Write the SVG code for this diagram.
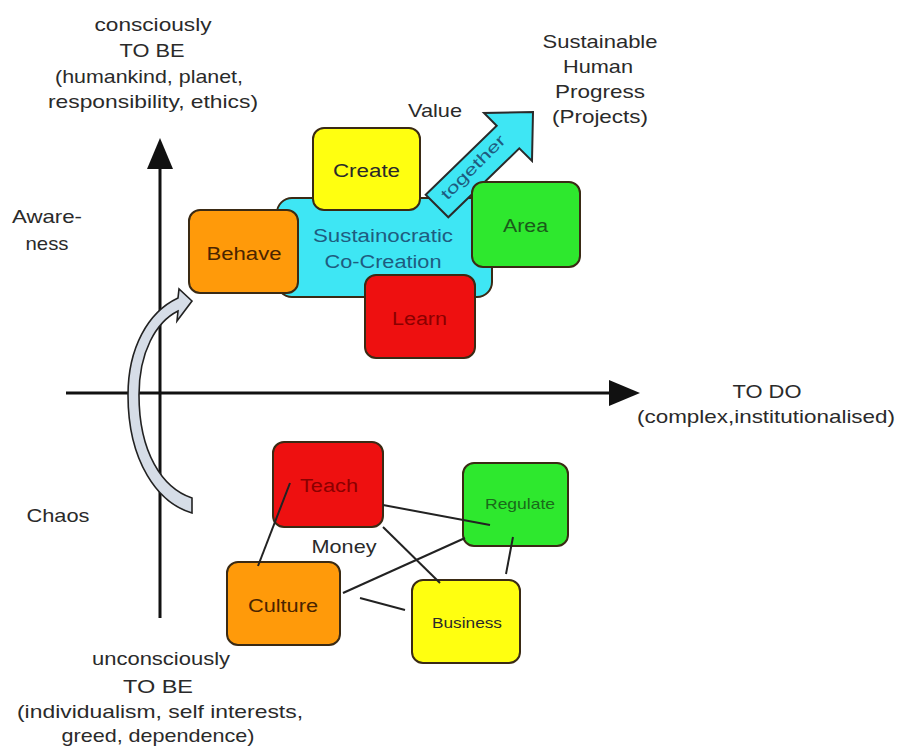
<svg xmlns="http://www.w3.org/2000/svg" width="899" height="749" viewBox="0 0 899 749">
<defs>
<style>
text{font-family:"Liberation Sans",Arial,sans-serif;fill:#2a2a2a;text-anchor:middle;}
.lbl{font-size:19px;}
.nd{font-size:18px;}
.sm{font-size:15px;}
.box{stroke:#3a2a14;stroke-width:2;}
.or{fill:#FF9A0A;}
.ye{fill:#FFFF10;}
.gr{fill:#2EE82E;}
.rd{fill:#EE1010;}
.cy{fill:#3EE6F4;}
.conn line{stroke:#222;stroke-width:2;}
.axis{stroke:#111;stroke-width:3;}
</style>
</defs>
<rect width="899" height="749" fill="#fff"/>

<!-- axes -->
<g id="axes">
<line class="axis" x1="160" y1="618" x2="160" y2="160"/>
<polygon points="160,138 147,169 173,169" fill="#111"/>
<line class="axis" x1="66" y1="393" x2="615" y2="393"/>
<polygon points="640,393 609,380 609,406" fill="#111"/>
</g>

<!-- curved arrow -->
<g id="transition-arrow">
<path d="M192,513 C158,503 128,462 128,395 C128,348 148,312 178,298 L179,289 L192,301 L177,321 L178,311 C156,322 139,352 139,395 C139,452 162,488 192,498 Z" fill="#D6DDE7" stroke="#222" stroke-width="1.6"/>
</g>

<!-- labels -->
<g id="labels">
<text class="lbl" x="153" y="31" textLength="117" lengthAdjust="spacingAndGlyphs">consciously</text>
<text class="lbl" x="152" y="57" textLength="65" lengthAdjust="spacingAndGlyphs">TO BE</text>
<text class="lbl" x="149" y="83" textLength="188" lengthAdjust="spacingAndGlyphs">(humankind, planet,</text>
<text class="lbl" x="153" y="108" textLength="210" lengthAdjust="spacingAndGlyphs">responsibility, ethics)</text>

<text class="lbl" x="600" y="48" textLength="115" lengthAdjust="spacingAndGlyphs">Sustainable</text>
<text class="lbl" x="598" y="73" textLength="70" lengthAdjust="spacingAndGlyphs">Human</text>
<text class="lbl" x="600" y="98" textLength="90" lengthAdjust="spacingAndGlyphs">Progress</text>
<text class="lbl" x="600" y="123" textLength="96" lengthAdjust="spacingAndGlyphs">(Projects)</text>

<text class="lbl" x="435" y="117" textLength="54" lengthAdjust="spacingAndGlyphs">Value</text>

<text class="lbl" x="47" y="223" textLength="70" lengthAdjust="spacingAndGlyphs">Aware-</text>
<text class="lbl" x="47" y="250" textLength="43" lengthAdjust="spacingAndGlyphs">ness</text>

<text class="lbl" x="58" y="522" textLength="63" lengthAdjust="spacingAndGlyphs">Chaos</text>

<text class="lbl" x="767" y="398" textLength="69" lengthAdjust="spacingAndGlyphs">TO DO</text>
<text class="lbl" x="766" y="423" textLength="258" lengthAdjust="spacingAndGlyphs">(complex,institutionalised)</text>

<text class="lbl" x="161" y="665" textLength="138" lengthAdjust="spacingAndGlyphs">unconsciously</text>
<text class="lbl" x="158" y="693" textLength="70" lengthAdjust="spacingAndGlyphs">TO BE</text>
<text class="lbl" x="160" y="718" textLength="286" lengthAdjust="spacingAndGlyphs">(individualism, self interests,</text>
<text class="lbl" x="158" y="742" textLength="193" lengthAdjust="spacingAndGlyphs">greed, dependence)</text>

<text class="lbl" x="344" y="553" textLength="65" lengthAdjust="spacingAndGlyphs">Money</text>
</g>

<!-- co-creation area -->
<g id="co-creation">
<rect class="box cy" x="277" y="198" width="215" height="99" rx="15"/>
<text class="nd" x="383" y="242" textLength="140" lengthAdjust="spacingAndGlyphs" style="fill:#1E5C80">Sustainocratic</text>
<text class="nd" x="383" y="268" textLength="117" lengthAdjust="spacingAndGlyphs" style="fill:#1E5C80">Co-Creation</text>
</g>

<g id="together-arrow">
<polygon class="cy" points="425.7,194.7 496.7,125.7 484,113 533,112 532,161 519.3,148.3 448.3,217.3" stroke="#2a2a2a" stroke-width="2" stroke-linejoin="miter"/>
<text transform="translate(477,171) rotate(-45)" style="font-size:16px;fill:#1E5C80" textLength="84" lengthAdjust="spacingAndGlyphs">together</text>
</g>

<!-- upper nodes -->
<g id="create">
<rect class="box ye" x="313" y="128" width="107" height="82" rx="11"/>
<text class="nd" x="366.5" y="177" textLength="67" lengthAdjust="spacingAndGlyphs">Create</text>
</g>
<g id="behave">
<rect class="box or" x="189" y="210" width="109" height="83" rx="11"/>
<text class="nd" x="244" y="260" textLength="75" lengthAdjust="spacingAndGlyphs" style="fill:#4a2400">Behave</text>
</g>
<g id="area">
<rect class="box gr" x="472" y="182" width="108" height="85" rx="11"/>
<text class="nd" x="525.5" y="232" textLength="45" lengthAdjust="spacingAndGlyphs" style="fill:#1a5a1a">Area</text>
</g>
<g id="learn">
<rect class="box rd" x="365" y="275" width="110" height="83" rx="11"/>
<text class="nd" x="419.5" y="325" textLength="55" lengthAdjust="spacingAndGlyphs" style="fill:#8a0000">Learn</text>
</g>

<!-- lower nodes -->
<g id="teach">
<rect class="box rd" x="273" y="442" width="110" height="85" rx="11"/>
<text class="nd" x="329" y="492" textLength="58" lengthAdjust="spacingAndGlyphs" style="fill:#8a0000">Teach</text>
</g>
<g id="regulate">
<rect class="box gr" x="463" y="463" width="105" height="83" rx="11"/>
<text class="sm" x="520" y="509" textLength="70" lengthAdjust="spacingAndGlyphs" style="fill:#1a6a1a">Regulate</text>
</g>
<g id="culture">
<rect class="box or" x="227" y="562" width="113" height="83" rx="11"/>
<text class="nd" x="283" y="612" textLength="70" lengthAdjust="spacingAndGlyphs" style="fill:#4a2400">Culture</text>
</g>
<g id="business">
<rect class="box ye" x="412" y="580" width="108" height="83" rx="11"/>
<text class="sm" x="467" y="628" textLength="70" lengthAdjust="spacingAndGlyphs">Business</text>
</g>

<!-- connectors -->
<g id="connectors" class="conn">
<line x1="290" y1="483" x2="258" y2="566"/>
<line x1="383" y1="505" x2="490" y2="525"/>
<line x1="383" y1="527" x2="440" y2="583"/>
<line x1="343" y1="593" x2="465" y2="538"/>
<line x1="360" y1="598" x2="405" y2="610"/>
<line x1="513" y1="537" x2="506" y2="574"/>
</g>
</svg>
